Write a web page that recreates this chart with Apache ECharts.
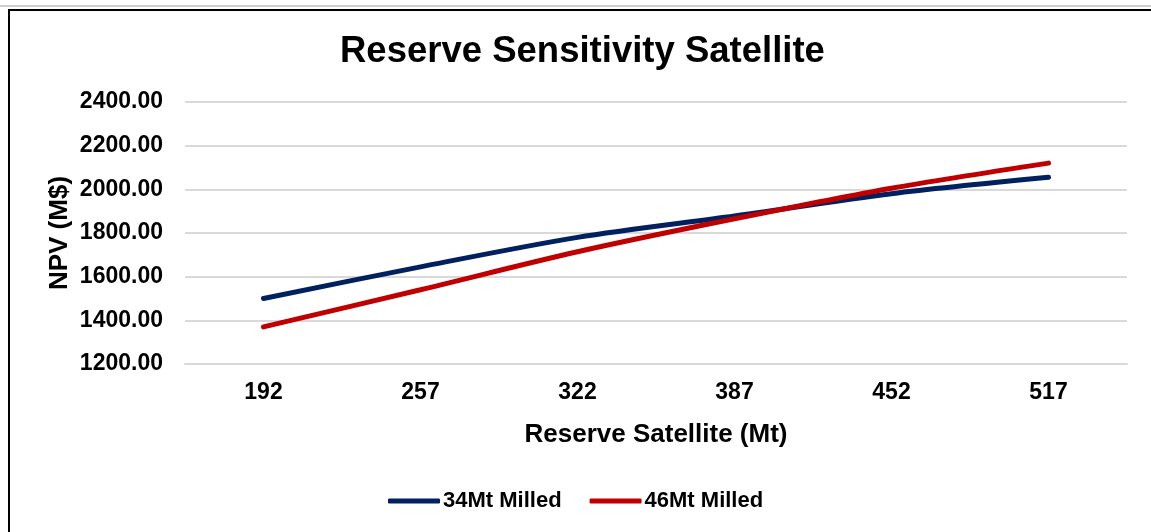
<!DOCTYPE html>
<html>
<head>
<meta charset="utf-8">
<script src="https://cdn.jsdelivr.net/npm/echarts@6/dist/echarts.min.js"></script>
<style>
  html, body { margin: 0; padding: 0; background: #fff; }
  #wrap { position: relative; width: 1151px; height: 532px; overflow: hidden; background: #fff; }
  #chart { position: absolute; left: 0; top: 0; width: 1151px; height: 532px; }
  #topline { position: absolute; left: 0; top: 5px; width: 1151px; height: 2px; background: #d0d0d0; }
  #frame { position: absolute; left: 8px; top: 9px; width: 1160px; height: 540px; border: 2px solid #000; pointer-events: none; box-sizing: border-box; }
</style>
</head>
<body>
<div id="wrap">
  <div id="topline"></div>
  <div id="chart"></div>
  <div id="frame"></div>
</div>
<script>
const categories = ['192', '257', '322', '387', '452', '517'];
const milled34 = [1500, 1645, 1780, 1878, 1980, 2055];
const milled46 = [1370, 1540, 1714, 1865, 2005, 2120];
const seriesNames = ['34Mt Milled', '46Mt Milled'];
const titleText = 'Reserve Sensitivity Satellite';
const xName = 'Reserve Satellite (Mt)';
const yName = 'NPV (M$)';

const FONT = '"Liberation Sans", Arial, sans-serif';
const chart = echarts.init(document.getElementById('chart'), null, { renderer: 'canvas' });
chart.setOption({
  animation: false,
  title: {
    text: titleText,
    left: 340,
    top: 33,
    padding: 0,
    textStyle: { fontFamily: FONT, fontWeight: 'bold', fontSize: 36.5, color: '#000' }
  },
  legend: {
    bottom: 15,
    left: 383,
    itemWidth: 52,
    itemHeight: 5,
    itemGap: 28,
    icon: 'roundRect',
    textStyle: { fontFamily: FONT, fontWeight: 'bold', fontSize: 22, color: '#000', padding: [0, 0, 0, -2] },
    data: seriesNames
  },
  grid: { left: 185, right: 24, top: 102, bottom: 168, containLabel: false },
  xAxis: {
    type: 'category',
    data: categories,
    boundaryGap: true,
    name: xName,
    nameLocation: 'middle',
    nameGap: 58,
    nameMoveOverlap: false,
    nameTextStyle: { fontFamily: FONT, fontWeight: 'bold', fontSize: 26, color: '#000' },
    axisLine: { show: true, lineStyle: { color: '#d9d9d9', width: 2 } },
    axisTick: { show: false },
    axisLabel: { fontFamily: FONT, fontWeight: 'bold', fontSize: 23, color: '#000', margin: 17 }
  },
  yAxis: {
    type: 'value',
    min: 1200,
    max: 2400,
    interval: 200,
    name: yName,
    nameLocation: 'middle',
    nameGap: 125,
    nameMoveOverlap: false,
    nameTextStyle: { fontFamily: FONT, fontWeight: 'bold', fontSize: 26, color: '#000', verticalAlign: 'middle' },
    axisLine: { show: false },
    axisTick: { show: false },
    splitLine: { lineStyle: { color: '#d9d9d9', width: 2 } },
    axisLabel: {
      fontFamily: FONT, fontWeight: 'bold', fontSize: 23, color: '#000', margin: 22,
      formatter: v => v.toFixed(2)
    }
  },
  series: [
    {
      name: seriesNames[0], type: 'line', data: milled34, smooth: 0.3, symbol: 'none',
      lineStyle: { color: '#002060', width: 5, cap: 'round' }, itemStyle: { color: '#002060' }
    },
    {
      name: seriesNames[1], type: 'line', data: milled46, smooth: 0.3, symbol: 'none',
      lineStyle: { color: '#C00000', width: 5, cap: 'round' }, itemStyle: { color: '#C00000' }
    }
  ]
});
</script>
</body>
</html>
